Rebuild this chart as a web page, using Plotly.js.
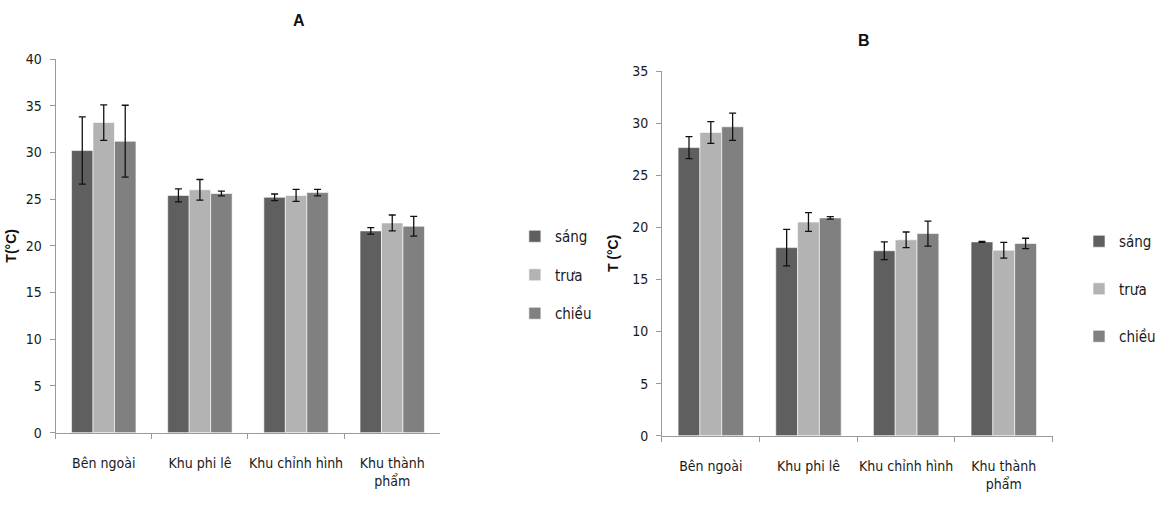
<!DOCTYPE html>
<html>
<head>
<meta charset="utf-8">
<script src="https://cdn.plot.ly/plotly-3.0.1.min.js"></script>
<style>html,body{margin:0;padding:0;background:#fff;}#chart{width:1161px;height:505px;}</style>
</head>
<body>
<div id="chart"></div>
<script>
const categories = ["Bên ngoài", "Khu phi lê", "Khu chỉnh hình", "Khu thành<br>phẩm"];
const seriesNames = ["sáng", "trưa", "chiều"];
const colors = ["#5f5f5f", "#b3b3b3", "#808080"];

// Panel A
const A_sang = [30.2, 25.4, 25.2, 21.6];
const A_trua = [33.2, 26.0, 25.4, 22.45];
const A_chieu = [31.2, 25.6, 25.7, 22.1];
const A_sang_err = [3.6, 0.7, 0.35, 0.35];
const A_trua_err = [1.9, 1.1, 0.65, 0.85];
const A_chieu_err = [3.85, 0.25, 0.35, 1.05];

// Panel B
const B_sang = [27.65, 18.05, 17.75, 18.6];
const B_trua = [29.1, 20.5, 18.8, 17.8];
const B_chieu = [29.65, 20.9, 19.4, 18.45];
const B_sang_err = [1.05, 1.75, 0.85, 0.05];
const B_trua_err = [1.05, 0.9, 0.75, 0.75];
const B_chieu_err = [1.3, 0.12, 1.2, 0.5];

const FONT = "Liberation Sans Narrow, DejaVu Sans Condensed, Arial Narrow, sans-serif";

function mk(name, x, y, err, color, xa, ya, leg) {
  return {
    type: "bar", name: name, x: x, y: y,
    xaxis: xa, yaxis: ya, legend: leg, legendgroup: leg + name,
    marker: {color: color, line: {color: "rgba(255,255,255,0.6)", width: 1}},
    error_y: {type: "data", array: err, visible: true, color: "#111", thickness: 1.3, width: 3.5}
  };
}

const dataA = [[A_sang, A_sang_err], [A_trua, A_trua_err], [A_chieu, A_chieu_err]];
const dataB = [[B_sang, B_sang_err], [B_trua, B_trua_err], [B_chieu, B_chieu_err]];
const traces = [];
dataA.forEach((d, i) => traces.push(mk(seriesNames[i], categories, d[0], d[1], colors[i], "x", "y", "legend")));
dataB.forEach((d, i) => traces.push(mk(seriesNames[i], categories, d[0], d[1], colors[i], "x2", "y2", "legend2")));

const axisCommon = {
  showgrid: false, zeroline: false, showline: true, linecolor: "#9a9a9a", linewidth: 1,
  ticks: "outside", ticklen: 5, tickcolor: "#9a9a9a",
  tickfont: {family: FONT, size: 14, color: "#1a1a1a"}
};

const legendCommon = {
  font: {family: FONT, size: 15, color: "#1a1a1a"},
  bgcolor: "rgba(0,0,0,0)", traceorder: "grouped", tracegroupgap: 16,
  itemwidth: 30, xanchor: "left", yanchor: "top"
};

const titleFont = {family: "Liberation Sans, Arial, sans-serif", size: 14, color: "#111"};

const layout = {
  width: 1161, height: 505,
  margin: {l: 0, r: 0, t: 0, b: 0},
  paper_bgcolor: "#fff", plot_bgcolor: "#fff",
  barmode: "group", bargap: 0.33, bargroupgap: 0,
  showlegend: true,
  xaxis: Object.assign({}, axisCommon, {domain: [56/1161, 443/1161], anchor: "y", tickson: "boundaries", type: "category", tickangle: 0, ticklabelstandoff: 17}),
  yaxis: Object.assign({}, axisCommon, {domain: [1 - 432.7/505, 1 - 59/505], anchor: "x", range: [0, 40], dtick: 5, ticklabelstandoff: 5,
    title: {text: "<b>T(°C)</b>", font: titleFont, standoff: 5}}),
  xaxis2: Object.assign({}, axisCommon, {domain: [666/1161, 1059/1161], anchor: "y2", tickson: "boundaries", type: "category", tickangle: 0, ticklabelstandoff: 17}),
  yaxis2: Object.assign({}, axisCommon, {domain: [1 - 435.7/505, 1 - 71/505], anchor: "x2", range: [0, 35], dtick: 5, ticklabelstandoff: 5,
    title: {text: "<b>T (°C)</b>", font: titleFont, standoff: 10}}),
  legend: Object.assign({}, legendCommon, {x: 518/1161, y: 1 - 220/505}),
  legend2: Object.assign({}, legendCommon, {x: 1086/1161, y: 1 - 225/505, tracegroupgap: 25}),
  annotations: [
    {text: "<b>A</b>", x: 293/1161, y: 1 - 20/505, xref: "paper", yref: "paper", yanchor: "middle", showarrow: false,
     font: {family: "Liberation Sans, Arial, sans-serif", size: 16, color: "#111"}},
    {text: "<b>B</b>", x: 877/1161, y: 1 - 41/505, xref: "paper", yref: "paper", yanchor: "middle", showarrow: false,
     font: {family: "Liberation Sans, Arial, sans-serif", size: 16, color: "#111"}}
  ]
};

Plotly.newPlot("chart", traces, layout, {displayModeBar: false, staticPlot: true});
</script>
</body>
</html>
